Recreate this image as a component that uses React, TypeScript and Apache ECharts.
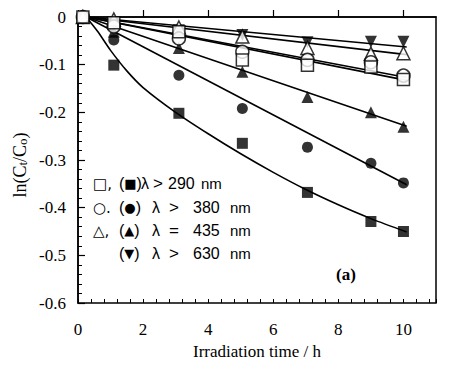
import React, { useEffect, useRef } from "react";
import * as echarts from "echarts";

// Irradiation times (h)
const times = [0.15, 1.1, 3.1, 5.05, 7.05, 9.0, 10.0];

// ln(Ct/Co) values
const filledSquare = [0, -0.101, -0.202, -0.265, -0.368, -0.429, -0.45];
const filledCircle = [0, -0.048, -0.122, -0.192, -0.273, -0.307, -0.348];
const filledTri = [0, -0.031, -0.065, -0.115, -0.168, -0.2, -0.23];
const filledInvTri = [0, -0.012, -0.028, -0.038, -0.053, -0.052, -0.052];
const openSquare = [0, -0.012, -0.031, -0.09, -0.101, -0.105, -0.131];
const openCircle = [0, -0.02, -0.045, -0.073, -0.09, -0.095, -0.123];
const openTri = [0, -0.005, -0.022, -0.041, -0.065, -0.077, -0.076];

// Fitted curves
const sqFitT = [0.25, 0.6, 1, 1.5, 2, 3, 4, 5, 6, 7, 8, 9, 10.1];
const sqFitV = [0, -0.03, -0.07, -0.113, -0.148, -0.2, -0.245, -0.287, -0.326, -0.362, -0.394, -0.423, -0.451];
const lineT = [0.25, 10.1];
const circleFit = [0, -0.352];
const triFit = [0, -0.229];
const openCircleFit = [0, -0.127];
const openSquareFit = [0, -0.133];
const openTriFit = [0, -0.079];
const invTriFit = [0, -0.063];

const xTicks = [0, 2, 4, 6, 8, 10];
const yTicks = [0, -0.1, -0.2, -0.3, -0.4, -0.5, -0.6];

const legendRows = [
  { open: "□,", filled: "■", rel: ">", wl: "290" },
  { open: "○.", filled: "●", rel: ">", wl: "380" },
  { open: "△,", filled: "▲", rel: "=", wl: "435" },
  { open: "", filled: "▼", rel: ">", wl: "630" },
];

const SERIF = "'Liberation Serif', 'Times New Roman', serif";
const SANS = "'Liberation Sans', Arial, sans-serif";
const SYM = "'DejaVu Sans', sans-serif";

const pair = (xs: number[], ys: number[]) => xs.map((x, i) => [x, ys[i]]);

export default function App() {
  const ref = useRef<HTMLDivElement>(null);
  useEffect(() => {
    document.body.style.margin = "0";
    const chart = echarts.init(ref.current!, undefined, { renderer: "svg" });
    const lineS = (data: number[][], smooth = false) => ({
      type: "line",
      data,
      showSymbol: false,
      smooth: smooth ? 0.3 : false,
      lineStyle: { color: "#000", width: 1.6 },
      z: 2,
      silent: true,
    });
    const scat = (ys: number[], symbol: string, size: number, open: boolean) => ({
      type: "scatter",
      data: pair(times, ys),
      symbol,
      symbolSize: size,
      itemStyle: open
        ? { color: "#fff", borderColor: "#000", borderWidth: 1.5 }
        : { color: "#000" },
      z: open ? 4 : 3,
    });
    const legendGraphics: any[] = [];
    const rowY = [185, 209, 232, 255];
    legendRows.forEach((r, i) => {
      const y = rowY[i];
      const compact = i === 0;
      if (r.open) {
        legendGraphics.push({
          type: "text", left: 93, top: y - 9,
          style: { text: r.open, font: `15px ${SYM}`, fill: "#000" },
        });
      }
      legendGraphics.push({
        type: "text", left: 119, top: y - 10,
        style: {
          text: `({s|${r.filled}})`,
          font: `16px ${SANS}`, fill: "#000",
          rich: { s: { fontFamily: SYM, fontSize: 13 } },
        },
      });
      legendGraphics.push({
        type: "text", left: compact ? 141 : 152, top: y - 10,
        style: { text: "λ", font: `16px ${SANS}`, fill: "#000" },
      });
      legendGraphics.push({
        type: "text", left: compact ? 153 : 169, top: y - 10,
        style: { text: r.rel, font: `17px ${SANS}`, fill: "#000" },
      });
      legendGraphics.push({
        type: "text", left: compact ? 168 : 193, top: y - 10,
        style: { text: r.wl, font: `16px ${SANS}`, fill: "#000" },
      });
      legendGraphics.push({
        type: "text", left: compact ? 201 : 230, top: y - 9,
        style: { text: "nm", font: `15px ${SANS}`, fill: "#000" },
      });
    });

    chart.setOption({
      animation: false,
      backgroundColor: "#fff",
      grid: {
        left: 78, top: 17, width: 358, height: 286,
        show: true, borderColor: "#000", borderWidth: 1.5,
      },
      xAxis: [
        {
          type: "value", min: 0, max: 11, interval: 2,
          name: "Irradiation time / h", nameLocation: "middle", nameGap: 39,
          nameTextStyle: { fontFamily: SERIF, fontSize: 17, color: "#000" },
          axisLine: { show: true, lineStyle: { color: "#000", width: 1.5 } },
          axisTick: { inside: true, length: 7, lineStyle: { color: "#000", width: 1.2 } },
          axisLabel: {
            fontFamily: SERIF, fontSize: 17, color: "#000", margin: 18,
            showMaxLabel: false,
            formatter: (v: number) => (xTicks.includes(v) ? String(v) : ""),
          },
          splitLine: { show: false },
        },
        {
          type: "value", min: 0, max: 11, interval: 0.4, position: "bottom",
          axisLine: { show: false },
          axisTick: { inside: true, length: 4, lineStyle: { color: "#000", width: 1 } },
          axisLabel: { show: false },
          splitLine: { show: false },
        },
      ],
      yAxis: {
        type: "value", min: -0.6, max: 0, interval: 0.1,
        axisLine: { show: true, lineStyle: { color: "#000", width: 1.5 } },
        axisTick: { inside: true, length: 7, lineStyle: { color: "#000", width: 1.2 } },
        minorTick: { show: true, splitNumber: 5, length: 4, lineStyle: { color: "#000", width: 1 } },
        axisLabel: {
          fontFamily: SERIF, fontSize: 17, color: "#000", margin: 12,
          formatter: (v: number) => {
            const r = Math.round(v * 10) / 10;
            return yTicks.includes(r) ? (r === 0 ? "0" : String(r)) : "";
          },
        },
        splitLine: { show: false },
      },
      series: [
        lineS(pair(sqFitT, sqFitV), true),
        lineS(pair(lineT, circleFit)),
        lineS(pair(lineT, triFit)),
        lineS(pair(lineT, openCircleFit)),
        lineS(pair(lineT, openSquareFit)),
        lineS(pair(lineT, openTriFit)),
        lineS(pair(lineT, invTriFit)),
        scat(filledInvTri, "path://M0,0 L10,0 L5,9 Z", 12, false),
        scat(openTri, "triangle", 13, true),
        scat(filledTri, "triangle", 12, false),
        scat(openCircle, "circle", 13, true),
        scat(filledCircle, "circle", 11, false),
        scat(openSquare, "rect", 12, true),
        scat(filledSquare, "rect", 11, false),
      ],
      graphic: [
        {
          type: "text", x: 20, y: 165, rotation: Math.PI / 2,
          style: {
            text: "ln(C{sub|t}/C{sub|o})",
            font: `18px ${SERIF}`, fill: "#000",
            align: "center", verticalAlign: "middle",
            rich: {
              sub: { fontFamily: SERIF, fontSize: 13, verticalAlign: "bottom", lineHeight: 13, padding: [9, 0, 0, 0] },
            },
          },
        },
        {
          type: "text", left: 336, top: 266,
          style: { text: "(a)", font: `bold 17px ${SERIF}`, fill: "#000" },
        },
        ...legendGraphics,
      ],
    });
    return () => chart.dispose();
  }, []);
  return <div ref={ref} style={{ width: 453, height: 367 }} />;
}
